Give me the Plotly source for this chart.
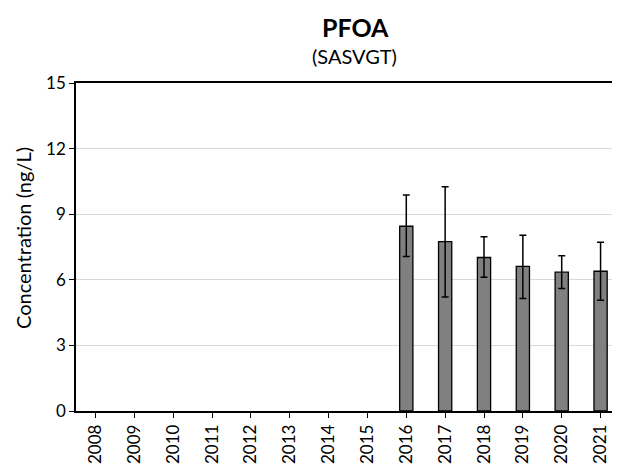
import plotly.graph_objects as go

years = [str(y) for y in range(2008, 2022)]
values = [None]*8 + [8.45, 7.75, 7.02, 6.61, 6.35, 6.39]
err_plus = [None]*8 + [1.43, 2.51, 0.95, 1.43, 0.75, 1.33]
err_minus = [None]*8 + [1.39, 2.54, 0.90, 1.47, 0.75, 1.33]
y_ticks = [0, 3, 6, 9, 12, 15]

font = "Lato, Open Sans, sans-serif"

fig = go.Figure(go.Bar(
    x=years, y=values, width=0.34,
    marker=dict(color="#808080", line=dict(color="#000000", width=1.3)),
    error_y=dict(type="data", symmetric=False, array=err_plus, arrayminus=err_minus,
                 color="#000000", thickness=1.5, width=3.5),
))

# page has 8px body margin, so figure is 612x457 and offsets shifted by 8px
fig.update_layout(
    width=612, height=457,
    margin=dict(l=68, r=0, t=75, b=54, autoexpand=False),
    paper_bgcolor="white", plot_bgcolor="white",
    showlegend=False,
    font=dict(family=font, color="#000000"),
    annotations=[
        dict(text="<b>PFOA</b>", xref="paper", yref="paper", x=0.5, y=1.0, yshift=56, xshift=7,
             showarrow=False, font=dict(size=25, family=font), xanchor="center", yanchor="middle"),
        dict(text="(SASVGT)", xref="paper", yref="paper", x=0.5, y=1.0, yshift=27, xshift=6,
             showarrow=False, font=dict(size=20, family=font), xanchor="center", yanchor="middle"),
        dict(text="Concentration (ng/L)", xref="paper", yref="paper", x=0, y=0.5, xshift=-53,
             yshift=9, textangle=-90, showarrow=False, font=dict(size=20, family=font),
             xanchor="center", yanchor="middle"),
    ],
)

fig.update_xaxes(
    type="category", categoryorder="array", categoryarray=years,
    showline=True, linecolor="#000000", linewidth=1.5, mirror=True,
    ticks="outside", ticklen=5, tickcolor="#000000",
    tickangle=-90, tickfont=dict(size=17, family=font),
    showgrid=False,
)
fig.update_yaxes(
    range=[0, 15], tickvals=y_ticks, ticktext=[str(v) for v in y_ticks],
    showline=True, linecolor="#000000", linewidth=1.5,
    ticks="outside", ticklen=5, tickcolor="#000000",
    tickfont=dict(size=17, family=font),
    showgrid=True, gridcolor="#d9d9d9", gridwidth=1,
    zeroline=False,
)

fig.write_html("out.html")
